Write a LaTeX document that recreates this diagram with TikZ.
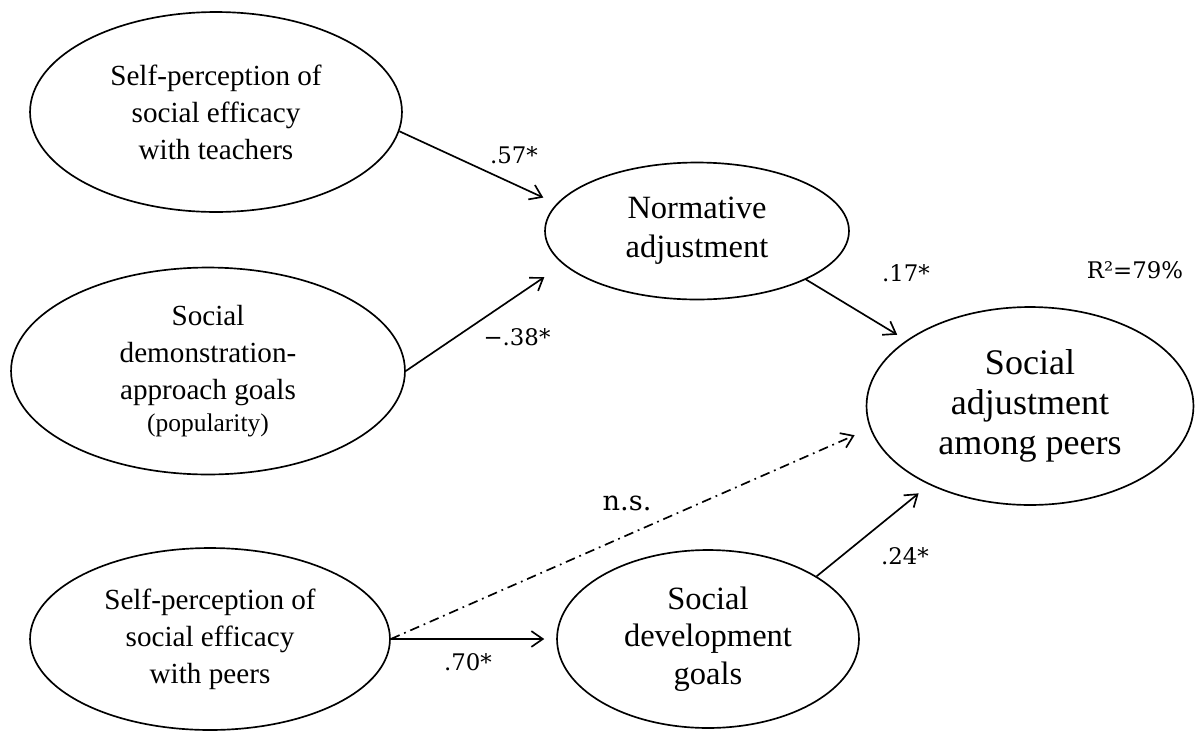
\documentclass[tikz,border=0pt]{standalone}
\usepackage{fontspec}
\setmainfont{Liberation Serif}
\newfontfamily\labelfont{DejaVu Serif}
\usetikzlibrary{shapes.geometric,arrows.meta}
\tikzset{
	latent/.style={draw, ellipse, line width=0.95pt, inner sep=0pt, align=center},
	effect/.style={line width=0.95pt, -{Straight Barb[length=6.5pt,width=9pt]}},
	nseffect/.style={effect, dash pattern=on 5.5pt off 2.8pt on 1pt off 2.8pt},
	coef/.style={font=\labelfont\fontsize{13}{15}\selectfont},
}

\begin{document}
\begin{tikzpicture}[x=0.02cm,y=-0.02cm]
	\useasboundingbox (0,0) rectangle (1197,731);
	\node[latent, minimum width=7.44cm, minimum height=4cm, font=\fontsize{16.6}{21}\selectfont] (teach) at (216,112) {Self-perception of\\social efficacy\\with teachers};
	\node[latent, minimum width=7.88cm, minimum height=4.14cm, font=\fontsize{16.6}{21}\selectfont] (demo) at (208,371) {Social\\demonstration-\\approach goals\\[-3pt]{\fontsize{14.5}{17}\selectfont (popularity)}};
	\node[latent, minimum width=7.2cm, minimum height=3.64cm, font=\fontsize{16.6}{21}\selectfont] (peers) at (210,639) {Self-perception of\\social efficacy\\with peers};
	\node[latent, minimum width=6.08cm, minimum height=2.74cm, font=\fontsize{18.5}{22}\selectfont] (norm) at (697,231) {Normative\\adjustment};
	\node[latent, minimum width=6.04cm, minimum height=3.56cm, font=\fontsize{18.5}{21.3}\selectfont] (dev) at (708,639) {Social\\development\\goals};
	\node[latent, minimum width=6.54cm, minimum height=3.96cm, font=\fontsize{20.5}{22.7}\selectfont] (adj) at (1030,406) {Social\\adjustment\\among peers};
	\draw[effect, shorten >=8.3pt] (teach.-6) -- (norm.169);
	\draw[effect, shorten >=12.9pt] (demo.east) -- (norm.194);
	\draw[effect, shorten >=6.1pt] (norm.-24) -- (adj.152);
	\draw[effect, shorten >=6.8pt] (peers.east) -- (dev.west);
	\draw[nseffect, shorten >=9.5pt] (peers.east) -- (adj.188);
	\draw[effect, shorten >=7.7pt] (dev.30) -- (adj.218);
	\node[coef] (c57) at (514,155) {.57*};
	\node[coef] (c38) at (517,337) {−.38*};
	\node[coef] (c17) at (906,273) {.17*};
	\node[coef] (rsq) at (1135,270) {R²=79\%};
	\node[coef, font=\labelfont\fontsize{15.5}{18}\selectfont] (cns) at (627,503) {n.s.};
	\node[coef] (c70) at (468,662) {.70*};
	\node[coef] (c24) at (905,556) {.24*};
\end{tikzpicture}
\end{document}
